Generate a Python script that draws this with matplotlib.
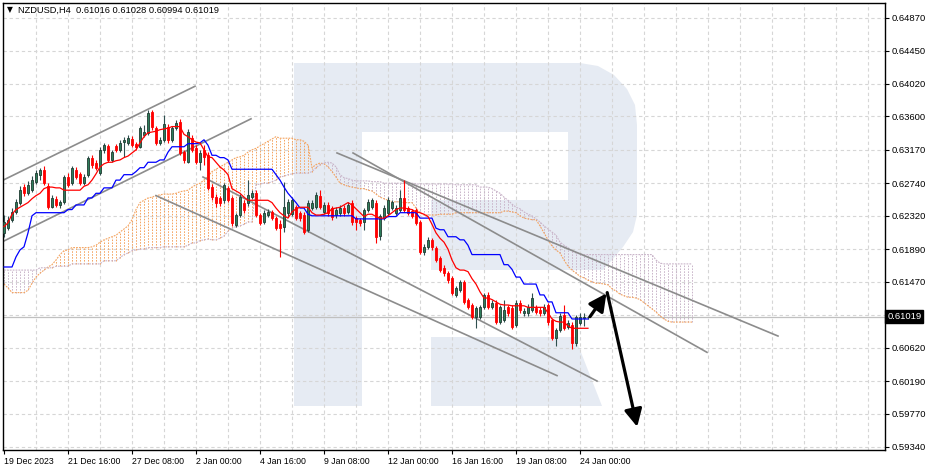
"""NZDUSD H4: candles, Ichimoku, trend lines, forecast arrows."""

import matplotlib
matplotlib.use("Agg")
import matplotlib.pyplot as plt
from matplotlib.patches import Polygon, Rectangle
from matplotlib.transforms import Affine2D, blended_transform_factory

plt.rcParams["font.family"] = ["Liberation Sans", "DejaVu Sans"]

# ---------------- data ----------------
opens = [
    0.6210, 0.6216, 0.6227, 0.6237, 0.6249, 0.6269, 0.6261, 0.6265, 0.6276, 0.6285,
    0.6291, 0.6270, 0.6243, 0.6254, 0.6246, 0.6250, 0.6282, 0.6274, 0.6291, 0.6286,
    0.6274, 0.6285, 0.6307, 0.6300, 0.6287, 0.6317, 0.6322, 0.6304, 0.6322, 0.6317,
    0.6327, 0.6326, 0.6331, 0.6325, 0.6321, 0.6336, 0.6339, 0.6366, 0.6345, 0.6326,
    0.6330, 0.6347, 0.6330, 0.6345, 0.6353, 0.6314, 0.6301, 0.6332, 0.6319, 0.6301,
    0.6317, 0.6310, 0.6269, 0.6256, 0.6255, 0.6252, 0.6268, 0.6255, 0.6220, 0.6233,
    0.6249, 0.6249, 0.6256, 0.6261, 0.6233, 0.6224, 0.6233, 0.6237, 0.6229, 0.6222,
    0.6218, 0.6236, 0.6234, 0.6243, 0.6236, 0.6233, 0.6214, 0.6242, 0.6243, 0.6257,
    0.6237, 0.6246, 0.6242, 0.6233, 0.6236, 0.6242, 0.6237, 0.6249, 0.6229, 0.6227,
    0.6224, 0.6240, 0.6243, 0.6249, 0.6206, 0.6229, 0.6236, 0.6242, 0.6236, 0.6240,
    0.6255, 0.6242, 0.6238, 0.6240, 0.6224, 0.6185, 0.6192, 0.6201, 0.6191, 0.6178,
    0.6165, 0.6158, 0.6152, 0.6130, 0.6136, 0.6147, 0.6124, 0.6117, 0.6102, 0.6102,
    0.6114, 0.6130, 0.6114, 0.6120, 0.6095, 0.6098, 0.6114, 0.6113, 0.6091, 0.6120,
    0.6107, 0.6107, 0.6111, 0.6113, 0.6111, 0.6107, 0.6117, 0.6098, 0.6074, 0.6085,
    0.6104, 0.6089, 0.6091, 0.6068, 0.6094, 0.6100, 0.61016,
]
highs = [
    0.6233, 0.6232, 0.6242, 0.6254, 0.6270, 0.6273, 0.6277, 0.6283, 0.6291, 0.6294,
    0.6296, 0.6274, 0.6259, 0.6257, 0.6252, 0.6285, 0.6287, 0.6296, 0.6295, 0.6288,
    0.6286, 0.6309, 0.6310, 0.6304, 0.6321, 0.6326, 0.6325, 0.6317, 0.6325, 0.6330,
    0.6334, 0.6336, 0.6335, 0.6327, 0.6348, 0.6349, 0.6368, 0.6368, 0.6348, 0.6334,
    0.6362, 0.6350, 0.6348, 0.6356, 0.6357, 0.6317, 0.6344, 0.6336, 0.6323, 0.6317,
    0.6323, 0.6314, 0.6273, 0.6260, 0.6257, 0.6274, 0.6270, 0.6257, 0.6236, 0.6260,
    0.6252, 0.6278, 0.6265, 0.6265, 0.6236, 0.6240, 0.6241, 0.6240, 0.6232, 0.6227,
    0.6276, 0.6254, 0.6256, 0.6246, 0.6238, 0.6237, 0.6252, 0.6252, 0.6263, 0.6265,
    0.6250, 0.6250, 0.6245, 0.6243, 0.6246, 0.6246, 0.6250, 0.6252, 0.6232, 0.6229,
    0.6242, 0.6254, 0.6255, 0.6252, 0.6234, 0.6246, 0.6256, 0.6252, 0.6246, 0.6265,
    0.6278, 0.6245, 0.6241, 0.6242, 0.6227, 0.6196, 0.6205, 0.6203, 0.6193, 0.6180,
    0.6169, 0.6161, 0.6154, 0.6142, 0.6149, 0.6149, 0.6126, 0.6120, 0.6116, 0.6117,
    0.6133, 0.6134, 0.6124, 0.6124, 0.6117, 0.6124, 0.6117, 0.6117, 0.6124, 0.6124,
    0.6113, 0.6118, 0.6133, 0.6117, 0.6114, 0.6118, 0.6120, 0.6100, 0.6087, 0.6107,
    0.6117, 0.6098, 0.6095, 0.6104, 0.6107, 0.6107, 0.61028,
]
lows = [
    0.6205, 0.6214, 0.6224, 0.6234, 0.6246, 0.6257, 0.6259, 0.6263, 0.6273, 0.6278,
    0.6272, 0.6241, 0.6242, 0.6243, 0.6242, 0.6247, 0.6269, 0.6272, 0.6279, 0.6272,
    0.6272, 0.6282, 0.6294, 0.6291, 0.6285, 0.6313, 0.6301, 0.6301, 0.6314, 0.6314,
    0.6308, 0.6323, 0.6321, 0.6317, 0.6319, 0.6334, 0.6336, 0.6343, 0.6323, 0.6323,
    0.6327, 0.6326, 0.6327, 0.6343, 0.6310, 0.6300, 0.6300, 0.6314, 0.6299, 0.6291,
    0.6298, 0.6265, 0.6252, 0.6243, 0.6245, 0.6249, 0.6250, 0.6219, 0.6218, 0.6231,
    0.6236, 0.6245, 0.6254, 0.6231, 0.6220, 0.6222, 0.6231, 0.6227, 0.6214, 0.6179,
    0.6211, 0.6231, 0.6232, 0.6227, 0.6225, 0.6209, 0.6211, 0.6240, 0.6241, 0.6241,
    0.6234, 0.6232, 0.6227, 0.6229, 0.6232, 0.6232, 0.6234, 0.6220, 0.6214, 0.6219,
    0.6214, 0.6237, 0.6241, 0.6197, 0.6201, 0.6227, 0.6233, 0.6240, 0.6233, 0.6237,
    0.6237, 0.6233, 0.6229, 0.6220, 0.6183, 0.6182, 0.6189, 0.6188, 0.6173, 0.6160,
    0.6154, 0.6146, 0.6130, 0.6127, 0.6134, 0.6118, 0.6112, 0.6099, 0.6087, 0.6099,
    0.6112, 0.6112, 0.6112, 0.6093, 0.6093, 0.6095, 0.6103, 0.6086, 0.6089, 0.6107,
    0.6103, 0.6103, 0.6108, 0.6105, 0.6103, 0.6104, 0.6091, 0.6072, 0.6064, 0.6082,
    0.6085, 0.6086, 0.6060, 0.6064, 0.6091, 0.6090, 0.60994,
]
closes = [
    0.6224, 0.6227, 0.6237, 0.6250, 0.6265, 0.6261, 0.6272, 0.6278, 0.6287, 0.6291,
    0.6274, 0.6243, 0.6255, 0.6246, 0.6250, 0.6282, 0.6272, 0.6294, 0.6282, 0.6274,
    0.6282, 0.6307, 0.6298, 0.6294, 0.6317, 0.6323, 0.6304, 0.6314, 0.6317, 0.6326,
    0.6330, 0.6332, 0.6323, 0.6321, 0.6345, 0.6340, 0.6365, 0.6347, 0.6326, 0.6330,
    0.6350, 0.6330, 0.6345, 0.6352, 0.6313, 0.6304, 0.6340, 0.6317, 0.6301, 0.6313,
    0.6308, 0.6268, 0.6256, 0.6249, 0.6249, 0.6272, 0.6252, 0.6223, 0.6233, 0.6256,
    0.6240, 0.6259, 0.6261, 0.6233, 0.6223, 0.6236, 0.6237, 0.6229, 0.6216, 0.6216,
    0.6243, 0.6250, 0.6252, 0.6229, 0.6229, 0.6211, 0.6249, 0.6249, 0.6259, 0.6243,
    0.6246, 0.6236, 0.6231, 0.6240, 0.6242, 0.6236, 0.6246, 0.6224, 0.6224, 0.6223,
    0.6240, 0.6250, 0.6252, 0.6205, 0.6232, 0.6242, 0.6252, 0.6250, 0.6242, 0.6255,
    0.6240, 0.6236, 0.6232, 0.6223, 0.6185, 0.6192, 0.6201, 0.6192, 0.6175, 0.6162,
    0.6158, 0.6149, 0.6133, 0.6139, 0.6147, 0.6121, 0.6114, 0.6102, 0.6113, 0.6114,
    0.6130, 0.6114, 0.6120, 0.6095, 0.6114, 0.6111, 0.6107, 0.6089, 0.6120, 0.6111,
    0.6109, 0.6114, 0.6126, 0.6108, 0.6107, 0.6114, 0.6095, 0.6074, 0.6085, 0.6103,
    0.6087, 0.6094, 0.6068, 0.6102, 0.6102, 0.6101, 0.61019,
]

# Ichimoku lines
tenkan = (
    [0.6218, 0.6223, 0.6234, 0.6240, 0.6243, 0.6246, 0.6249, 0.6254, 0.6258, 0.6261]
    + [0.6267, 0.6269, 0.6269, 0.6268, 0.6268] + [0.6265] * 5
    + [0.6270, 0.6272, 0.6278, 0.6286, 0.6295, 0.6299, 0.6301, 0.6301, 0.6303, 0.6304]
    + [0.6307, 0.6309, 0.6313, 0.6317, 0.6326, 0.6334, 0.6339, 0.6340, 0.6341, 0.6343]
    + [0.6344, 0.6345, 0.6347, 0.6347, 0.6347, 0.6337, 0.6334, 0.6330, 0.6327, 0.6326]
    + [0.6317, 0.6308, 0.6307, 0.6301, 0.6295, 0.6291, 0.6285, 0.6267, 0.6264, 0.6261]
    + [0.6256] + [0.6252] * 6
    + [0.6249, 0.6242, 0.6236, 0.6232, 0.6229, 0.6237, 0.6241, 0.6243, 0.6243, 0.6243]
    + [0.6236, 0.6233, 0.6233, 0.6234, 0.6236, 0.6241, 0.6242, 0.6243, 0.6246, 0.6249]
    + [0.6246, 0.6241, 0.6236, 0.6231, 0.6234, 0.6234, 0.6231, 0.6229, 0.6229, 0.6232]
    + [0.6236, 0.6240, 0.6242, 0.6242, 0.6241, 0.6240, 0.6237, 0.6236, 0.6234, 0.6231]
    + [0.6221, 0.6210, 0.6203, 0.6198, 0.6189, 0.6175, 0.6165, 0.6162, 0.6162, 0.6160]
    + [0.6151, 0.6144, 0.6134, 0.6126, 0.6126, 0.6124, 0.6121, 0.6118]
    + [0.6117, 0.6117, 0.6116, 0.6116, 0.6116, 0.6116] + [0.6114] * 5
    + [0.6107, 0.6099, 0.6096, 0.6095, 0.6095, 0.6090] + [0.6087] * 5
)
kijun = (
    [0.6166] * 3 + [0.6179, 0.6188, 0.6192, 0.6210, 0.6232] + [0.6236] * 8
    + [0.6240] * 2 + [0.6246] * 3 + [0.6255] * 2 + [0.6261] * 2 + [0.6268] * 3
    + [0.6278] * 2 + [0.6285] * 3 + [0.6289] + [0.6294] * 2 + [0.6301] * 3
    + [0.6304] * 2 + [0.6314] + [0.6321] * 4 + [0.6325] * 3 + [0.6326, 0.6330, 0.6323]
    + [0.6310] * 2 + [0.6307] * 2 + [0.6304] + [0.6292] * 11
    + [0.6285, 0.6278, 0.6269, 0.6261, 0.6255, 0.6249] + [0.6242] * 2 + [0.6234]
    + [0.6232] * 11 + [0.6228] * 8 + [0.6231] * 3 + [0.6236] * 5 + [0.6229] * 4
    + [0.6216] + [0.6214] * 2 + [0.6205] * 3 + [0.6201] * 2 + [0.6194] + [0.6182] * 8
    + [0.6169] * 2 + [0.6163] + [0.6153] * 2 + [0.6144] * 4 + [0.6130] * 2
    + [0.6121] * 2 + [0.6107] * 4 + [0.6099] * 5
)
# Senkou spans run 26 bars past the last candle
span_a = (
    [0.6144, 0.6139] + [0.6133] * 4 + [0.6136, 0.6145, 0.6153, 0.6158, 0.6162, 0.6166]
    + [0.6169, 0.6175, 0.6182, 0.6187, 0.6188] + [0.6191] * 5
    + [0.6192, 0.6194, 0.6198, 0.6201, 0.6203, 0.6205, 0.6207, 0.6211, 0.6215, 0.6219]
    + [0.6227, 0.6240, 0.6249, 0.6252, 0.6255, 0.6256, 0.6258, 0.6259] + [0.6260] * 3
    + [0.6261, 0.6263, 0.6264, 0.6265, 0.6269, 0.6272, 0.6274, 0.6278, 0.6283, 0.6289]
    + [0.6292, 0.6295, 0.6298, 0.6301, 0.6304, 0.6307, 0.6308, 0.6310, 0.6314, 0.6317]
    + [0.6319, 0.6322, 0.6325, 0.6328, 0.6331, 0.6334] + [0.6332] * 4 + [0.6330] * 2
    + [0.6328, 0.6323, 0.6294, 0.6298, 0.6300, 0.6299, 0.6295, 0.6289, 0.6282, 0.6274]
    + [0.6272, 0.6270, 0.6269, 0.6268, 0.6267, 0.6267, 0.6265, 0.6264, 0.6260, 0.6256]
    + [0.6254, 0.6252] + [0.6250] * 3 + [0.6249] * 3 + [0.6242, 0.6236]
    + [0.6233] * 4 + [0.6234] * 4 + [0.6236] * 12 + [0.6238] * 2
    + [0.6237, 0.6236, 0.6232, 0.6229, 0.6228, 0.6227, 0.6227, 0.6219, 0.6210, 0.6201]
    + [0.6193, 0.6188, 0.6184, 0.6175, 0.6167, 0.6162, 0.6158, 0.6154, 0.6152, 0.6149]
    + [0.6147, 0.6145, 0.6145, 0.6144, 0.6143, 0.6138, 0.6135, 0.6131, 0.6129, 0.6127]
    + [0.6127, 0.6126, 0.6124, 0.6120, 0.6116, 0.6112, 0.6108, 0.6103, 0.6099, 0.6096]
    + [0.6095] * 6
)
span_b = (
    [0.6162] * 9 + [0.6165] * 4 + [0.6167] * 4 + [0.6170] * 8 + [0.6174] * 4
    + [0.6178, 0.6182, 0.6184, 0.6187, 0.6188] + [0.6189] * 2 + [0.6191] * 4
    + [0.6192] * 6 + [0.6194] + [0.6197] * 2 + [0.6200, 0.6201, 0.6202, 0.6201, 0.6201]
    + [0.6203, 0.6206, 0.6212, 0.6216, 0.6218, 0.6219, 0.6221, 0.6224, 0.6224]
    + [0.6272, 0.6273, 0.6274, 0.6274, 0.6276, 0.6278, 0.6282, 0.6283, 0.6285, 0.6286]
    + [0.6287] * 4 + [0.6289, 0.6294, 0.6298, 0.6300, 0.6301, 0.6300, 0.6295, 0.6285]
    + [0.6281, 0.6280, 0.6278] + [0.6277] * 4 + [0.6276] * 3 + [0.6274] * 8
    + [0.6273] * 10 + [0.6272] * 6 + [0.6269] * 3
    + [0.6267, 0.6264, 0.6261, 0.6256, 0.6252, 0.6247, 0.6243, 0.6241, 0.6237, 0.6234]
    + [0.6232, 0.6228, 0.6224, 0.6219, 0.6215, 0.6211, 0.6207, 0.6198, 0.6194, 0.6191]
    + [0.6187, 0.6184, 0.6183, 0.6182] + [0.6182] * 17 + [0.6175, 0.6171] + [0.6170] * 8
)

# trend lines: (bar, price) pairs
trend_lines = [
    ((-1.0, 0.6276), (47.75, 0.6399)),
    ((-1.0, 0.6197), (61.75, 0.6357)),
    ((38.0, 0.6258), (138.25, 0.6026)),
    ((49.75, 0.6282), (148.25, 0.6019)),
    ((83.25, 0.6313), (193.5, 0.6077)),
    ((87.25, 0.6313), (175.75, 0.6056)),
]
# forecast arrows: (tail, tip)
arrows = [
    ((146.5, 0.6102), (150.6, 0.6132)),
    ((150.8, 0.6133), (158.3, 0.5960)),
]

price_ticks = [0.64870, 0.64450, 0.64020, 0.63600, 0.63170, 0.62740, 0.62320,
               0.61890, 0.61470, 0.60620, 0.60190, 0.59770, 0.59340]
time_ticks = [0, 16, 32, 48, 64, 80, 96, 112, 128, 144]
time_labels = ["19 Dec 2023", "21 Dec 16:00", "27 Dec 08:00", "2 Jan 00:00",
               "4 Jan 16:00", "9 Jan 08:00", "12 Jan 00:00", "16 Jan 16:00",
               "19 Jan 08:00", "24 Jan 00:00"]
last_price = 0.61019
title = "NZDUSD,H4  0.61016 0.61028 0.60994 0.61019"

# ---------------- figure ----------------
W, H = 931, 471
fig = plt.figure(figsize=(W / 100, H / 100), dpi=100)
ax = fig.add_axes([3 / W, 21 / H, 882 / W, 447 / H])
ax.set_xlim(-0.25, 220.25)
ax.set_ylim(0.59301, 0.65063)

# watermark "R", drawn in pixel coordinates (origin top-left)
px = Affine2D().scale(1 / W, -1 / H).translate(0, 1) + fig.transFigure
wm = "#e6ebf3"
ax.add_patch(Rectangle((294, 63), 68, 343, transform=px, color=wm, lw=0, zorder=0.1))
ax.add_patch(Polygon([(362, 63), (580, 63), (598, 66), (614, 75), (627, 89), (635, 105),
                      (637, 125), (637, 215), (633, 232), (623, 247), (612, 260),
                      (603, 270), (431, 270), (431, 200), (568, 200), (568, 132),
                      (362, 132)], closed=True, transform=px, color=wm, lw=0, zorder=0.1))
ax.add_patch(Polygon([(431, 337), (575, 337), (602, 406), (431, 406)], closed=True,
                     transform=px, color=wm, lw=0, zorder=0.1))

# grid
grid_kw = dict(color="#d6d6d6", lw=0.8, dashes=(3.0, 2.5), zorder=0.5)
for p in price_ticks + [0.61045]:
    ax.axhline(p, **grid_kw)
for b in range(8, 220, 8):
    ax.axvline(b, **grid_kw)
ax.axhline(last_price, color="#c0c0c0", lw=0.9, zorder=0.6)

# ichimoku cloud hatching
for i in range(len(span_a)):
    col = "#f4a460" if span_a[i] >= span_b[i] else "#c9b4c9"
    ax.vlines(i, min(span_a[i], span_b[i]), max(span_a[i], span_b[i]),
              colors=col, linestyles=[(0, (1.6, 1.4))], lw=0.7, zorder=1)
xs_span = list(range(len(span_a)))
ax.plot(xs_span, span_a, color="#f4a460", lw=0.8, ls=(0, (1.6, 1.0)), zorder=1.2)
ax.plot(xs_span, span_b, color="#c9b4c9", lw=0.8, ls=(0, (1.6, 1.0)), zorder=1.2)

# trend lines
for (x0, y0), (x1, y1) in trend_lines:
    ax.plot([x0, x1], [y0, y1], color="#8c8c8c", lw=1.2, zorder=2)

# candles
for i, (o, h, l, c) in enumerate(zip(opens, highs, lows, closes)):
    bull = c >= o
    wick = "#2f4f4f" if bull else "#ff0000"
    ax.vlines(i, l, h, colors=wick, lw=0.8, zorder=3)
    body = max(abs(c - o), 0.00001)
    ax.add_patch(Rectangle((i - 0.35, min(o, c)), 0.7, body,
                           facecolor="#2e7d5b" if bull else "#ff0000",
                           edgecolor="#1f3a30" if bull else "#ff0000",
                           lw=0.6, zorder=3.1))

xs = list(range(len(closes)))
ax.plot(xs, kijun, color="#0000ff", lw=0.9, zorder=4)
ax.plot(xs, tenkan, color="#ff0000", lw=0.9, zorder=4.1)

for tail, tip in arrows:
    ax.annotate("", xy=tip, xytext=tail,
                arrowprops=dict(arrowstyle="-|>,head_length=0.75,head_width=0.38",
                                color="black", lw=2.3, shrinkA=0, shrinkB=0,
                                mutation_scale=14),
                zorder=5)

# axes styling
for s in ax.spines.values():
    s.set_color("black")
    s.set_linewidth(1.0)
ax.yaxis.tick_right()
ax.set_yticks(price_ticks)
ax.set_yticklabels([f"{p:.5f}" for p in price_ticks])
ax.set_xticks(time_ticks)
ax.set_xticklabels(time_labels)
for lbl in ax.get_xticklabels():
    lbl.set_horizontalalignment("left")
ax.tick_params(axis="y", direction="out", length=3, width=0.8, pad=2,
               labelsize=6.8, colors="black")
ax.tick_params(axis="x", direction="out", length=3, width=0.8, pad=2,
               labelsize=6.3, colors="black")

# current price box
tr = blended_transform_factory(ax.transAxes, ax.transData)
ax.text(1.0025, last_price, f"{last_price:.5f}", transform=tr, fontsize=6.8,
        color="white", va="center", ha="left",
        bbox=dict(boxstyle="square,pad=0.2", fc="black", ec="black"))

# header
fig.text(7 / W, 1 - 10 / H, "▼", fontsize=5.5, va="center", ha="left", color="black",
         family="DejaVu Sans")
fig.text(18 / W, 1 - 10 / H, title, fontsize=6.65, va="center", ha="left", color="black")

fig.savefig("out.png", dpi=100)
